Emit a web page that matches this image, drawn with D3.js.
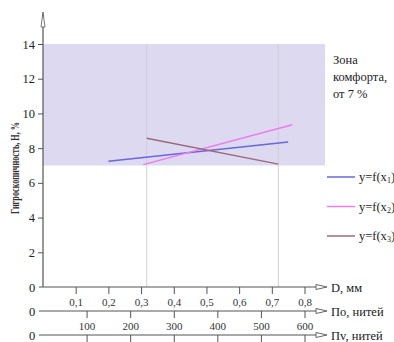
<!DOCTYPE html>
<html>
<head>
<meta charset="utf-8">
<script src="https://cdn.jsdelivr.net/npm/d3@7"></script>
<style>
  body { margin: 0; background: #fff; }
  svg { display: block; }
  svg text { font-family: "Liberation Serif", "Times New Roman", "DejaVu Serif", serif; }
</style>
</head>
<body>
<div id="chart"></div>
<script>
// ---------- Data ----------
const yTicks = [2, 4, 6, 8, 10, 12, 14];
const dTicks = [0.1, 0.2, 0.3, 0.4, 0.5, 0.6, 0.7, 0.8];
const poTicks = [100, 200, 300, 400, 500, 600];
const pvTicks = [100, 200, 300, 400, 500, 600];

const comfortMin = 7;
const comfortMax = 14;

// y = f(x1), x1 = D, мм
const s1X = [0.2, 0.75];
const s1Y = [7.25, 8.35];
// y = f(x2), x2 = По, нитей
const s2X = [230, 572];
const s2Y = [7.05, 9.35];
// y = f(x3), x3 = Пv, нитей
const s3X = [238, 540];
const s3Y = [8.57, 7.08];

const legendNames = ["1", "2", "3"];
const seriesColors = ["#6a66dc", "#ee7aee", "#9a6a7c"];
const comfortText = ["Зона", "комфорта,", "от 7 %"];

// ---------- Layout ----------
const W = 394, H = 342;
const x0 = 43, xEnd = 316;
const axisY = [287, 311, 335];
const serif = "'Liberation Serif', 'Times New Roman', serif";

const svg = d3.select("#chart").append("svg")
  .attr("width", W).attr("height", H);

const y = d3.scaleLinear().domain([0, 14]).range([287, 44]);
const xD = d3.scaleLinear().domain([0, 0.8]).range([x0, 304.5]);
const xPo = d3.scaleLinear().domain([0, 600]).range([x0, 304.5]);
const xPv = d3.scaleLinear().domain([0, 600]).range([x0, 304.5]);

const axisColor = "#555";
const fmtComma = d => d3.format(".1f")(d).replace(".", ",");

// comfort zone
svg.append("rect")
  .attr("x", x0).attr("y", y(comfortMax))
  .attr("width", 325 - x0).attr("height", y(comfortMin) - y(comfortMax))
  .attr("fill", "#dcd9f0");

// vertical guides at x3 ends
svg.selectAll("line.guide")
  .data(s3X)
  .enter().append("line")
  .attr("class", "guide")
  .attr("x1", d => xPv(d)).attr("x2", d => xPv(d))
  .attr("y1", y(comfortMax)).attr("y2", y(0))
  .attr("stroke", "#cfcfd6").attr("stroke-width", 1);

// series lines
const series = [
  { xs: s1X, ys: s1Y, sx: xD },
  { xs: s2X, ys: s2Y, sx: xPo },
  { xs: s3X, ys: s3Y, sx: xPv }
];
series.forEach((s, i) => {
  const pts = s.xs.map((v, j) => [s.sx(v), y(s.ys[j])]);
  svg.append("path")
    .attr("d", d3.line()(pts))
    .attr("fill", "none")
    .attr("stroke", seriesColors[i])
    .attr("stroke-width", 1.5);
});

// ---------- Y axis ----------
const yAxis = svg.append("g")
  .attr("transform", `translate(${x0},0)`)
  .call(d3.axisLeft(y).tickValues(yTicks).tickSize(5).tickPadding(3));
yAxis.attr("font-family", serif);
yAxis.select(".domain").remove();
yAxis.selectAll("line").attr("stroke", axisColor);
yAxis.selectAll("text")
  .attr("font-size", 12.5).attr("fill", "#222");

svg.append("line")
  .attr("x1", x0).attr("x2", x0)
  .attr("y1", 14).attr("y2", y(0))
  .attr("stroke", axisColor).attr("stroke-width", 1.2);
svg.append("path")
  .attr("d", `M${x0 - 2},27 L${x0},12 L${x0 + 2},27 Z`)
  .attr("fill", "#fff").attr("stroke", axisColor).attr("stroke-width", 0.8);

svg.append("text")
  .attr("transform", "translate(19,168) rotate(-90)")
  .attr("text-anchor", "middle")
  .attr("font-size", 12).attr("font-weight", "bold")
  .attr("fill", "#333")
  .attr("textLength", 92).attr("lengthAdjust", "spacingAndGlyphs")
  .text("Гигроскопичность, Н, %");

// ---------- X axes ----------
const xAxes = [
  { scale: xD, ticks: dTicks, fmt: fmtComma, label: "D, мм" },
  { scale: xPo, ticks: poTicks, fmt: d3.format("d"), label: "По, нитей" },
  { scale: xPv, ticks: pvTicks, fmt: () => "", label: "Пv, нитей" }
];
xAxes.forEach((a, i) => {
  const ay = axisY[i];
  const g = svg.append("g")
    .attr("transform", `translate(0,${ay})`)
    .call(d3.axisBottom(a.scale).tickValues(a.ticks).tickFormat(a.fmt).tickSize(7).tickPadding(4));
  g.attr("font-family", serif);
  g.select(".domain").remove();
  g.selectAll("line").attr("stroke", axisColor);
  g.selectAll("text")
    .attr("font-size", 11).attr("fill", "#333");

  svg.append("line")
    .attr("x1", 39).attr("x2", xEnd)
    .attr("y1", ay).attr("y2", ay)
    .attr("stroke", axisColor).attr("stroke-width", 1.2);
  svg.append("path")
    .attr("d", `M${xEnd},${ay - 2.5} L${xEnd + 11},${ay} L${xEnd},${ay + 2.5} Z`)
    .attr("fill", "#fff").attr("stroke", axisColor).attr("stroke-width", 0.9);
  svg.append("text")
    .attr("x", 331).attr("y", ay + 4.5)
    .attr("font-size", 12.5).attr("fill", "#222")
    .text(a.label);
  svg.append("text")
    .attr("x", 32).attr("y", ay + 4.5)
    .attr("text-anchor", "middle")
    .attr("font-size", 12.5).attr("fill", "#222")
    .text("0");
});

// ---------- Comfort zone note ----------
svg.append("text")
  .attr("x", 333).attr("y", 64)
  .attr("font-size", 12.5).attr("fill", "#222")
  .selectAll("tspan")
  .data(comfortText)
  .enter().append("tspan")
  .attr("x", 333)
  .attr("dy", (d, i) => i === 0 ? 0 : 17)
  .text(d => d);

// ---------- Legend ----------
const legend = svg.append("g");
legendNames.forEach((n, i) => {
  const ly = 177 + i * 29.5;
  legend.append("line")
    .attr("x1", 327).attr("x2", 355)
    .attr("y1", ly).attr("y2", ly)
    .attr("stroke", seriesColors[i]).attr("stroke-width", 1.5);
  const t = legend.append("text")
    .attr("x", 359).attr("y", ly + 4)
    .attr("font-size", 12.5).attr("fill", "#222");
  t.append("tspan").text("y=f(x");
  t.append("tspan").attr("font-size", 8).attr("dy", 2).text(n);
  t.append("tspan").attr("dy", -2).text(")");
});
</script>
</body>
</html>
